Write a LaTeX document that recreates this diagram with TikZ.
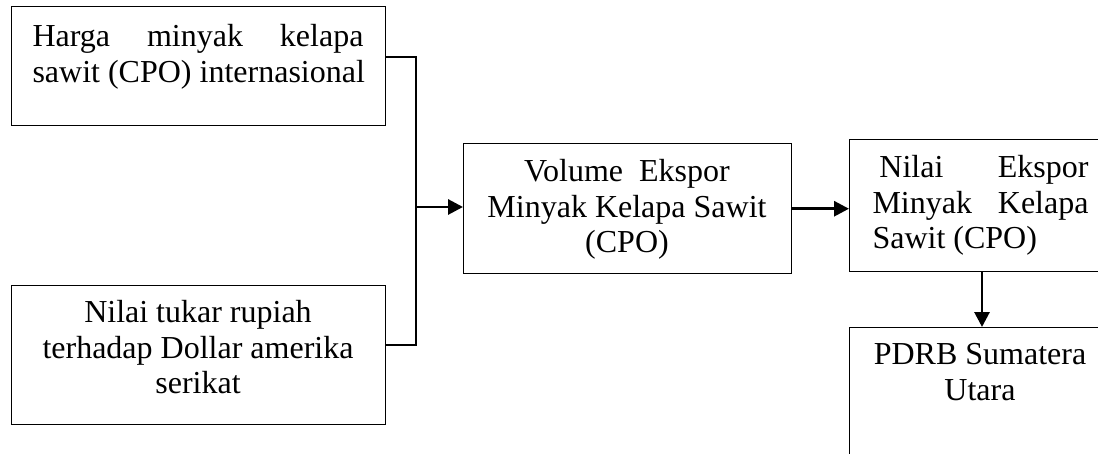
\documentclass[tikz,border=0pt]{standalone}
\usepackage{fontspec}
\setmainfont{Liberation Serif}
\usetikzlibrary{arrows.meta}
\begin{document}
\begin{tikzpicture}[x=0.375pt,y=-0.375pt,
  box/.style={draw, line width=0.55pt, anchor=north west, inner sep=0pt},
  label/.style={font=\fontsize{12pt}{13.2pt}\selectfont, inner sep=0pt},
  link/.style={line width=1.1pt},
  flow/.style={link, -{Triangle[length=5.6pt,width=5.6pt]}}]
\useasboundingbox (0,0) rectangle (1098,454);
\clip (0,0) rectangle (1098,454);

% boxes
\node[box, minimum width=140.25pt, minimum height=44.6pt] (harga) at (11,6) {};
\node[box, minimum width=140.25pt, minimum height=52.1pt] (rupiah) at (11,285) {};
\node[box, minimum width=123pt, minimum height=48.75pt] (volume) at (463,143) {};
\node[box, minimum width=101.6pt, minimum height=49.5pt] (nilai) at (849,139) {};
\node[box, minimum width=101.6pt, minimum height=57.4pt] (pdrb) at (849,327) {};

% texts (base anchor = baseline of the last line)
\node[label, anchor=base west, align=left] (tharga) at (32,82.2)
  {\makebox[124.1pt][s]{Harga minyak kelapa}\\sawit (CPO) internasional};
\node[label, anchor=base, align=center] (trupiah) at (198,393.4)
  {Nilai tukar rupiah\\terhadap Dollar amerika\\serikat};
\node[label, anchor=base, align=center] (tvolume) at (627,252.4)
  {Volume~~Ekspor\\Minyak Kelapa Sawit\\(CPO)};
\node[label, anchor=base west, align=left] (tnilai) at (872,248.4)
  {\makebox[81pt][l]{\hspace{2.6pt}Nilai\hfill Ekspor}\\\makebox[81pt][s]{Minyak Kelapa}\\Sawit (CPO)};
\node[label, anchor=base, align=center] (tpdrb) at (980,400.2)
  {PDRB Sumatera\\Utara};

% connectors
\coordinate (j1) at (416,57);
\coordinate (j2) at (416,345);
\coordinate (jm) at (416,207);
\coordinate (dx) at (982,0);
\draw[link] (harga.east |- j1) -- (j1) -- (j2) -- (rupiah.east |- j2);
\draw[flow] (jm) -- (jm -| volume.west);
\draw[flow] (volume.east) -- (volume.east -| nilai.west);
\draw[flow] (nilai.south -| dx) -- (pdrb.north -| dx);
\end{tikzpicture}
\end{document}
